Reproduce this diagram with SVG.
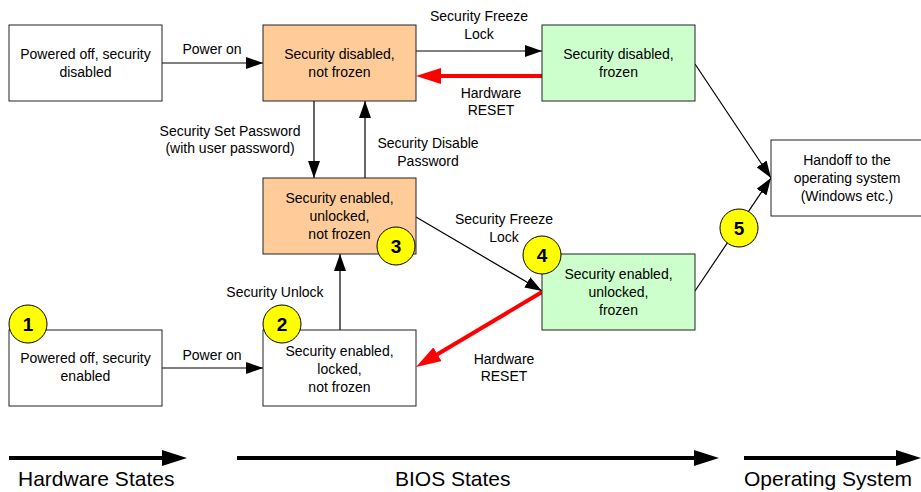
<svg xmlns="http://www.w3.org/2000/svg" width="921" height="492" viewBox="0 0 921 492">
<style>
text{font-family:"Liberation Sans",Arial,sans-serif;font-size:14px;fill:#000;text-anchor:middle}
.box{stroke:#222;stroke-width:1}
.w{fill:#fff}.o{fill:#FFCC99}.g{fill:#CCFFCC}
.ln{stroke:#000;stroke-width:1.2;fill:none}
.red{stroke:#FF0000;stroke-width:4;fill:none}
.big{stroke:#000;stroke-width:4;fill:none}
.badge circle{fill:#FFFF00;stroke:#000;stroke-width:1}
.badge text{font-size:19px;font-weight:bold}
.axis{font-size:21px;text-anchor:start}
</style>
<defs>
<marker id="ab" markerUnits="userSpaceOnUse" markerWidth="17" markerHeight="12" refX="17" refY="6" orient="auto"><path d="M0,0 L17,6 L0,12 z" fill="#000"/></marker>
<marker id="ar" markerUnits="userSpaceOnUse" markerWidth="25" markerHeight="16" refX="5" refY="8" orient="auto"><path d="M0,0 L25,8 L0,16 z" fill="#FF0000"/></marker>
<marker id="abig" markerUnits="userSpaceOnUse" markerWidth="25" markerHeight="16" refX="5" refY="8" orient="auto"><path d="M0,0 L25,8 L0,16 z" fill="#000"/></marker>
</defs>
<rect width="921" height="492" fill="#fff"/>
<g id="connectors">
<line class="ln" x1="162" y1="63" x2="263" y2="63" marker-end="url(#ab)"/>
<text x="212" y="54">Power on</text>
<line class="ln" x1="416" y1="51" x2="542" y2="51" marker-end="url(#ab)"/>
<text x="479" y="21">Security Freeze</text><text x="479" y="39">Lock</text>
<line class="red" x1="542" y1="76" x2="436" y2="76" marker-end="url(#ar)"/>
<text x="491" y="98">Hardware</text><text x="491" y="115">RESET</text>
<line class="ln" x1="314" y1="101" x2="314" y2="178" marker-end="url(#ab)"/>
<text x="230" y="136">Security Set Password</text><text x="230" y="153">(with user password)</text>
<line class="ln" x1="365" y1="178" x2="365" y2="101" marker-end="url(#ab)"/>
<text x="428" y="148">Security Disable</text><text x="428" y="166">Password</text>
<line class="ln" x1="416" y1="217" x2="542" y2="291" marker-end="url(#ab)"/>
<text x="504" y="224">Security Freeze</text><text x="504" y="242">Lock</text>
<line class="red" x1="542" y1="292" x2="433.2" y2="356.8" marker-end="url(#ar)"/>
<text x="504" y="364">Hardware</text><text x="504" y="381">RESET</text>
<line class="ln" x1="340" y1="330" x2="340" y2="254" marker-end="url(#ab)"/>
<text x="275" y="297">Security Unlock</text>
<line class="ln" x1="162" y1="368" x2="263" y2="368" marker-end="url(#ab)"/>
<text x="212" y="360">Power on</text>
<line class="ln" x1="695" y1="64" x2="771" y2="178" marker-end="url(#ab)"/>
<line class="ln" x1="695" y1="291" x2="771" y2="178" marker-end="url(#ab)"/>
</g>
<g id="n-off-disabled"><rect class="box w" x="9" y="25" width="153" height="76"/><text x="85.5" y="59">Powered off, security</text><text x="85.5" y="77">disabled</text></g>
<g id="n-disabled-notfrozen"><rect class="box o" x="263" y="25" width="153" height="76"/><text x="339.5" y="59">Security disabled,</text><text x="339.5" y="77">not frozen</text></g>
<g id="n-disabled-frozen"><rect class="box g" x="542" y="25" width="153" height="76"/><text x="618.5" y="59">Security disabled,</text><text x="618.5" y="77">frozen</text></g>
<g id="n-enabled-unlocked-notfrozen"><rect class="box o" x="263" y="178" width="153" height="76"/><text x="339.5" y="203">Security enabled,</text><text x="339.5" y="221">unlocked,</text><text x="339.5" y="239">not frozen</text></g>
<g id="n-handoff"><rect class="box w" x="771" y="140" width="153" height="76"/><text x="847" y="165">Handoff to the</text><text x="847" y="183">operating system</text><text x="847" y="201">(Windows etc.)</text></g>
<g id="n-enabled-unlocked-frozen"><rect class="box g" x="542" y="254" width="153" height="76"/><text x="618.5" y="279">Security enabled,</text><text x="618.5" y="297">unlocked,</text><text x="618.5" y="315">frozen</text></g>
<g id="n-off-enabled"><rect class="box w" x="9" y="330" width="153" height="76"/><text x="85.5" y="363">Powered off, security</text><text x="85.5" y="381">enabled</text></g>
<g id="n-enabled-locked"><rect class="box w" x="263" y="330" width="153" height="76"/><text x="339.5" y="356">Security enabled,</text><text x="339.5" y="374">locked,</text><text x="339.5" y="392">not frozen</text></g>
<g id="badges" class="badge">
<g id="b1"><circle cx="28" cy="324" r="19"/><text x="28" y="331">1</text></g>
<g id="b2"><circle cx="282" cy="324" r="19"/><text x="282" y="331">2</text></g>
<g id="b3"><circle cx="396" cy="246" r="19"/><text x="396" y="253">3</text></g>
<g id="b4"><circle cx="542" cy="255" r="19"/><text x="542" y="262">4</text></g>
<g id="b5"><circle cx="739" cy="228" r="19"/><text x="739" y="235">5</text></g>
</g>
<g id="axes">
<line class="big" x1="9" y1="458" x2="167" y2="458" marker-end="url(#abig)"/>
<line class="big" x1="237" y1="458" x2="699" y2="458" marker-end="url(#abig)"/>
<line class="big" x1="744" y1="458" x2="901" y2="458" marker-end="url(#abig)"/>
<text class="axis" x="18" y="486">Hardware States</text>
<text class="axis" x="395" y="486">BIOS States</text>
<text class="axis" x="744" y="486">Operating System</text>
</g>
</svg>
